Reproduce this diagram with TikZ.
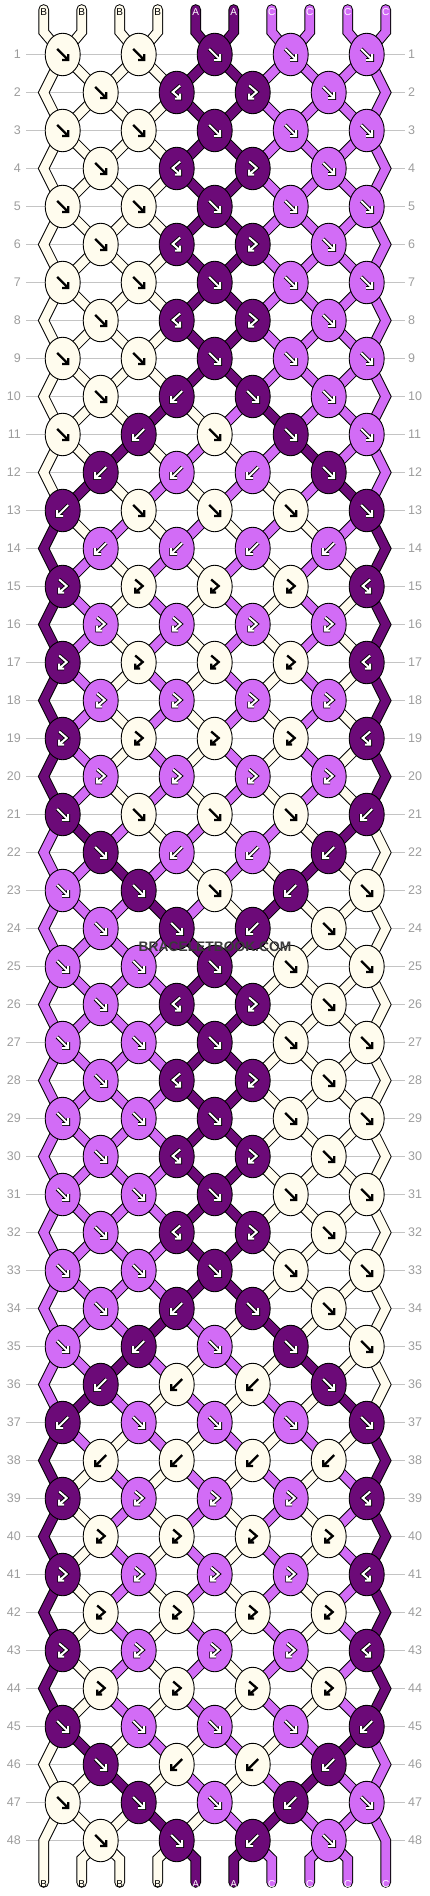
\documentclass[tikz,border=0pt]{standalone}
\usepackage{fontspec}
\setmainfont{Liberation Sans}
\usetikzlibrary{shapes.geometric}
\definecolor{cB}{HTML}{FFFCEE}
\definecolor{cA}{HTML}{6C0A78}
\definecolor{cC}{HTML}{D26CF6}
\definecolor{gridc}{HTML}{C4C4C4}
\definecolor{numc}{HTML}{9C9C9C}
\definecolor{wmc}{HTML}{3A3A3A}
\def\gf{(-5.5,-5.5) -- (5.5,5.5) (5.5,-0.5) -- (5.5,5.5) -- (-0.5,5.5)}
\def\gb{(5.5,-5.5) -- (-5.5,5.5) (-5.5,-0.5) -- (-5.5,5.5) -- (0.5,5.5)}
\def\gfb{(-3.5,-7) -- (4,-0.5) -- (-3.5,6) (-3.5,1) -- (-3.5,6) -- (1.5,6)}
\def\gbf{(3.5,-7) -- (-4,-0.5) -- (3.5,6) (3.5,1) -- (3.5,6) -- (-1.5,6)}
\begin{document}
\begin{tikzpicture}[x=1pt,y=-1pt,
  strout/.style={draw=black,line width=10.6pt,line join=miter,line cap=round},
  strfill/.style={line width=8.6pt,line join=miter,line cap=round},
  knot/.style={ellipse,draw=black,line width=0.9pt,minimum width=35pt,minimum height=42.5pt,inner sep=0pt},
  arrB/.style={draw=black,line width=2.3pt,line join=miter,line cap=square},
  arrU/.style={draw=black,line width=3.8pt,line join=miter,line cap=square},
  arrW/.style={draw=white,line width=2pt,line join=miter,line cap=square},
  num/.style={text=numc,font=\fontsize{12.5}{12.5}\selectfont,inner sep=0pt},
  letter/.style={font=\fontsize{10}{10}\selectfont,inner sep=0pt},
  gridline/.style={draw=gridc,line width=1.1pt}]
\useasboundingbox (0,0) rectangle (430,1896);
% grid lines and row numbers
\foreach \r in {1,...,48}{
  \pgfmathsetmacro\yy{54.5+38*(\r-1)}
  \coordinate (GL-\r) at (26,\yy);
  \coordinate (GR-\r) at (405,\yy);
  \draw[gridline] (GL-\r) -- (GR-\r);
  \node[num,anchor=east] (NL-\r) at (21,\yy) {\r};
  \node[num,anchor=west] (NR-\r) at (408,\yy) {\r};
}
% string points
\foreach \r in {1,...,48}{
  \foreach \p in {1,...,10}{
    \ifodd\p \def\off{19}\else\def\off{-19}\fi
    \pgfmathsetmacro\py{54.5+38*(\r-1)}
    \ifodd\r
      \pgfmathsetmacro\px{43.7+38*(\p-1)+(\off)}
    \else
      \ifnum\p=1 \def\px{43.7}\else\ifnum\p=10 \def\px{385.7}\else
        \pgfmathsetmacro\px{43.7+38*(\p-1)-(\off)}\fi\fi
    \fi
    \coordinate (P-\r-\p) at (\px,\py);
  }
}
\foreach \p in {1,...,10}{
  \pgfmathsetmacro\xx{43.7+38*(\p-1)}
  \coordinate (T-\p) at (\xx,9.5);
  \coordinate (U-\p) at (\xx,32);
  \coordinate (D-\p) at (\xx,1859);
  \coordinate (E-\p) at (\xx,1882.5);
}
% outline pass
\foreach \p in {1,...,10}{
  \draw[strout] (T-\p) -- (U-\p) \foreach \r in {1,...,48}{ -- (P-\r-\p) } -- (D-\p) -- (E-\p);
}
% fill pass
\foreach \st [count=\r from 0] in {
{B,B,B,B,A,A,C,C,C,C},
{B,B,B,B,A,A,C,C,C,C},
{B,B,B,B,A,A,C,C,C,C},
{B,B,B,B,A,A,C,C,C,C},
{B,B,B,B,A,A,C,C,C,C},
{B,B,B,B,A,A,C,C,C,C},
{B,B,B,B,A,A,C,C,C,C},
{B,B,B,B,A,A,C,C,C,C},
{B,B,B,B,A,A,C,C,C,C},
{B,B,B,B,A,A,C,C,C,C},
{B,B,B,A,B,C,A,C,C,C},
{B,B,A,B,C,B,C,A,C,C},
{B,A,B,C,B,C,B,C,A,C},
{A,B,C,B,C,B,C,B,C,A},
{A,C,B,C,B,C,B,C,B,A},
{A,C,B,C,B,C,B,C,B,A},
{A,C,B,C,B,C,B,C,B,A},
{A,C,B,C,B,C,B,C,B,A},
{A,C,B,C,B,C,B,C,B,A},
{A,C,B,C,B,C,B,C,B,A},
{A,C,B,C,B,C,B,C,B,A},
{C,A,C,B,C,B,C,B,A,B},
{C,C,A,C,B,C,B,A,B,B},
{C,C,C,A,C,B,A,B,B,B},
{C,C,C,C,A,A,B,B,B,B},
{C,C,C,C,A,A,B,B,B,B},
{C,C,C,C,A,A,B,B,B,B},
{C,C,C,C,A,A,B,B,B,B},
{C,C,C,C,A,A,B,B,B,B},
{C,C,C,C,A,A,B,B,B,B},
{C,C,C,C,A,A,B,B,B,B},
{C,C,C,C,A,A,B,B,B,B},
{C,C,C,C,A,A,B,B,B,B},
{C,C,C,C,A,A,B,B,B,B},
{C,C,C,A,C,B,A,B,B,B},
{C,C,A,C,B,C,B,A,B,B},
{C,A,C,B,C,B,C,B,A,B},
{A,C,B,C,B,C,B,C,B,A},
{A,B,C,B,C,B,C,B,C,A},
{A,B,C,B,C,B,C,B,C,A},
{A,B,C,B,C,B,C,B,C,A},
{A,B,C,B,C,B,C,B,C,A},
{A,B,C,B,C,B,C,B,C,A},
{A,B,C,B,C,B,C,B,C,A},
{A,B,C,B,C,B,C,B,C,A},
{B,A,B,C,B,C,B,C,A,C},
{B,B,A,B,C,B,C,A,C,C},
{B,B,B,A,B,C,A,C,C,C},
{B,B,B,B,A,A,C,C,C,C}}{
  \foreach \cl [count=\p] in \st {
    \ifnum\p=1 \def\edge{1}\else\ifnum\p=10 \def\edge{1}\else\def\edge{0}\fi\fi
    \ifnum\r=0
      \draw[strfill,color=c\cl] (T-\p) -- (U-\p) -- (P-1-\p);
    \else\ifnum\r=48
      \ifnum\edge=0
        \draw[strfill,color=c\cl] (P-48-\p) -- (D-\p) -- (E-\p);
      \fi
    \else
      \pgfmathtruncatemacro\rn{\r+1}
      \pgfmathtruncatemacro\rnn{\r+2}
      \ifnum\edge=1
        \ifodd\r
          \ifnum\r=47
            \draw[strfill,color=c\cl] (P-47-\p) -- (P-48-\p) -- (E-\p);
          \else
            \draw[strfill,color=c\cl] (P-\r-\p) -- (P-\rn-\p) -- (P-\rnn-\p);
          \fi
        \fi
      \else
        \draw[strfill,color=c\cl] (P-\r-\p) -- (P-\rn-\p);
      \fi
    \fi\fi
  }
}
% knots
\foreach \row [count=\r] in {
{B/f,B/f,A/f,C/f,C/f},
{B/f,A/bf,A/fb,C/f},
{B/f,B/f,A/f,C/f,C/f},
{B/f,A/bf,A/fb,C/f},
{B/f,B/f,A/f,C/f,C/f},
{B/f,A/bf,A/fb,C/f},
{B/f,B/f,A/f,C/f,C/f},
{B/f,A/bf,A/fb,C/f},
{B/f,B/f,A/f,C/f,C/f},
{B/f,A/b,A/f,C/f},
{B/f,A/b,B/f,A/f,C/f},
{A/b,C/b,C/b,A/f},
{A/b,B/f,B/f,B/f,A/f},
{C/b,C/b,C/b,C/b},
{A/fb,B/fb,B/fb,B/fb,A/bf},
{C/fb,C/fb,C/fb,C/fb},
{A/fb,B/fb,B/fb,B/fb,A/bf},
{C/fb,C/fb,C/fb,C/fb},
{A/fb,B/fb,B/fb,B/fb,A/bf},
{C/fb,C/fb,C/fb,C/fb},
{A/f,B/f,B/f,B/f,A/b},
{A/f,C/b,C/b,A/b},
{C/f,A/f,B/f,A/b,B/f},
{C/f,A/f,A/b,B/f},
{C/f,C/f,A/f,B/f,B/f},
{C/f,A/bf,A/fb,B/f},
{C/f,C/f,A/f,B/f,B/f},
{C/f,A/bf,A/fb,B/f},
{C/f,C/f,A/f,B/f,B/f},
{C/f,A/bf,A/fb,B/f},
{C/f,C/f,A/f,B/f,B/f},
{C/f,A/bf,A/fb,B/f},
{C/f,C/f,A/f,B/f,B/f},
{C/f,A/b,A/f,B/f},
{C/f,A/b,C/f,A/f,B/f},
{A/b,B/b,B/b,A/f},
{A/b,C/f,C/f,C/f,A/f},
{B/b,B/b,B/b,B/b},
{A/fb,C/fb,C/fb,C/fb,A/bf},
{B/fb,B/fb,B/fb,B/fb},
{A/fb,C/fb,C/fb,C/fb,A/bf},
{B/fb,B/fb,B/fb,B/fb},
{A/fb,C/fb,C/fb,C/fb,A/bf},
{B/fb,B/fb,B/fb,B/fb},
{A/f,C/f,C/f,C/f,A/b},
{A/f,B/b,B/b,A/b},
{B/f,A/f,C/f,A/b,C/f},
{B/f,A/f,A/b,C/f}}{
  \foreach \col/\typ [count=\c] in \row {
    \pgfmathsetmacro\ky{54.5+38*(\r-1)}
    \ifodd\r \pgfmathsetmacro\kx{62.7+76*(\c-1)}\else\pgfmathsetmacro\kx{100.7+76*(\c-1)}\fi
    \node[knot,fill=c\col] (K-\r-\c) at (\kx,\ky) {};
    \expandafter\let\expandafter\gl\csname g\typ\endcsname
    \begin{scope}[shift={(\kx,\ky)}]
      \if\col B\draw[arrB] \gl;\else\draw[arrU] \gl;\draw[arrW] \gl;\fi
    \end{scope}
  }
}
% string end letters
\foreach \p/\l in {1/B,2/B,3/B,4/B,5/A,6/A,7/C,8/C,9/C,10/C}{
  \pgfmathsetmacro\xx{43.7+38*(\p-1)}
  \if\l B\def\lc{black}\else\def\lc{white}\fi
  \node[letter,text=\lc] (TL-\p) at (\xx,12.5) {\l};
  \node[letter,text=\lc] (BL-\p) at (\xx,1884.5) {\l};
}
% watermark
\node[font=\bfseries\fontsize{13.8}{14}\selectfont,text=wmc,inner sep=0pt] (wm) at (215,947) {BRACELETBOOK.COM};
\end{tikzpicture}
\end{document}
